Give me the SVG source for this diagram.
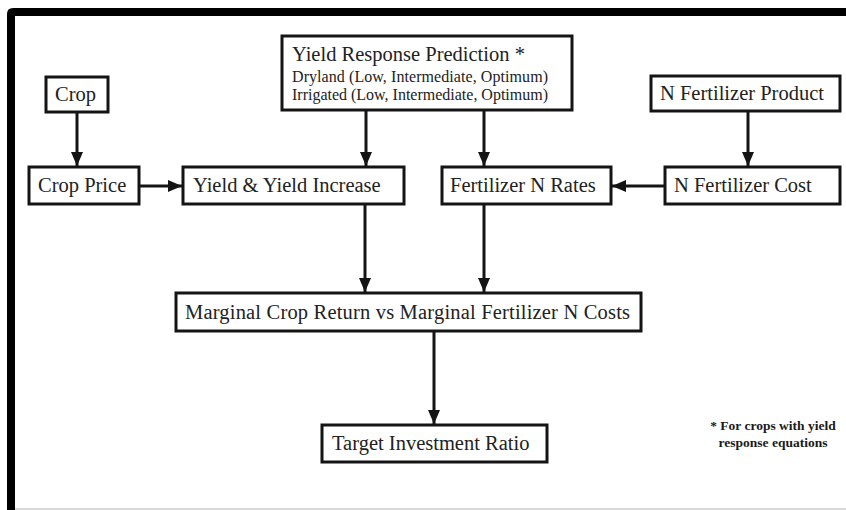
<svg xmlns="http://www.w3.org/2000/svg" width="846" height="510" viewBox="0 0 846 510">
  <style>
    .box { fill: #ffffff; stroke: #141414; stroke-width: 3; }
    .t { font-family: "Liberation Serif", "Times New Roman", serif; font-size: 20.5px; fill: #222222; }
    .s { font-family: "Liberation Serif", "Times New Roman", serif; font-size: 16px; fill: #222222; }
    .fn { font-family: "Liberation Serif", "Times New Roman", serif; font-size: 13.5px; font-weight: bold; fill: #1a1a1a; }
    .c { stroke: #141414; stroke-width: 3; fill: none; marker-end: url(#ah); }
  </style>
  <defs>
    <marker id="ah" markerUnits="userSpaceOnUse" markerWidth="14" markerHeight="12" refX="14" refY="6" orient="auto">
      <path d="M0,0 L14,6 L0,12 z" fill="#141414"/>
    </marker>
  </defs>
  <rect x="0" y="0" width="846" height="510" fill="#ffffff"/>
  <g id="frame">
    <path d="M7,510 L7,14 Q7,8 13,8 L846,8 L846,16 L15,16 L15,510 z" fill="#000000"/>
    <line x1="15" y1="509" x2="846" y2="509" stroke="#cccccc" stroke-width="1.5"/>
  </g>
  <g id="connectors">
    <line class="c" x1="77" y1="112" x2="77" y2="166"/>
    <line class="c" x1="139" y1="186" x2="182" y2="186"/>
    <line class="c" x1="366" y1="110" x2="366" y2="166"/>
    <line class="c" x1="484" y1="110" x2="484" y2="166"/>
    <line class="c" x1="748" y1="111" x2="748" y2="166"/>
    <line class="c" x1="665" y1="186" x2="612" y2="186"/>
    <line class="c" x1="365" y1="204" x2="365" y2="292"/>
    <line class="c" x1="484" y1="204" x2="484" y2="292"/>
    <line class="c" x1="434" y1="331" x2="434" y2="424"/>
  </g>
  <g id="crop">
    <rect class="box" x="46" y="77" width="62" height="35"/>
    <text class="t" x="55" y="101">Crop</text>
  </g>
  <g id="crop-price">
    <rect class="box" x="29" y="167" width="110" height="37"/>
    <text class="t" x="38" y="192">Crop Price</text>
  </g>
  <g id="yield-response">
    <rect class="box" x="282" y="36" width="290" height="74"/>
    <text class="t" x="292" y="61">Yield Response Prediction *</text>
    <text class="s" x="292" y="82" textLength="256" lengthAdjust="spacing">Dryland (Low, Intermediate, Optimum)</text>
    <text class="s" x="292" y="100" textLength="256" lengthAdjust="spacing">Irrigated (Low, Intermediate, Optimum)</text>
  </g>
  <g id="n-fert-product">
    <rect class="box" x="651" y="76" width="189" height="35"/>
    <text class="t" x="660" y="100">N Fertilizer Product</text>
  </g>
  <g id="yield-increase">
    <rect class="box" x="183" y="167" width="221" height="37"/>
    <text class="t" x="193" y="192">Yield &amp; Yield Increase</text>
  </g>
  <g id="fert-n-rates">
    <rect class="box" x="442" y="167" width="169" height="37"/>
    <text class="t" x="450" y="192">Fertilizer N Rates</text>
  </g>
  <g id="n-fert-cost">
    <rect class="box" x="665" y="167" width="175" height="37"/>
    <text class="t" x="674" y="192">N Fertilizer Cost</text>
  </g>
  <g id="marginal">
    <rect class="box" x="176" y="293" width="465" height="38"/>
    <text class="t" x="185" y="319" textLength="445" lengthAdjust="spacing">Marginal Crop Return vs Marginal Fertilizer N Costs</text>
  </g>
  <g id="target">
    <rect class="box" x="322" y="425" width="225" height="37"/>
    <text class="t" x="332" y="450">Target Investment Ratio</text>
  </g>
  <g id="footnote">
    <text class="fn" x="773" y="430" text-anchor="middle">* For crops with yield</text>
    <text class="fn" x="773" y="447" text-anchor="middle">response equations</text>
  </g>
</svg>
